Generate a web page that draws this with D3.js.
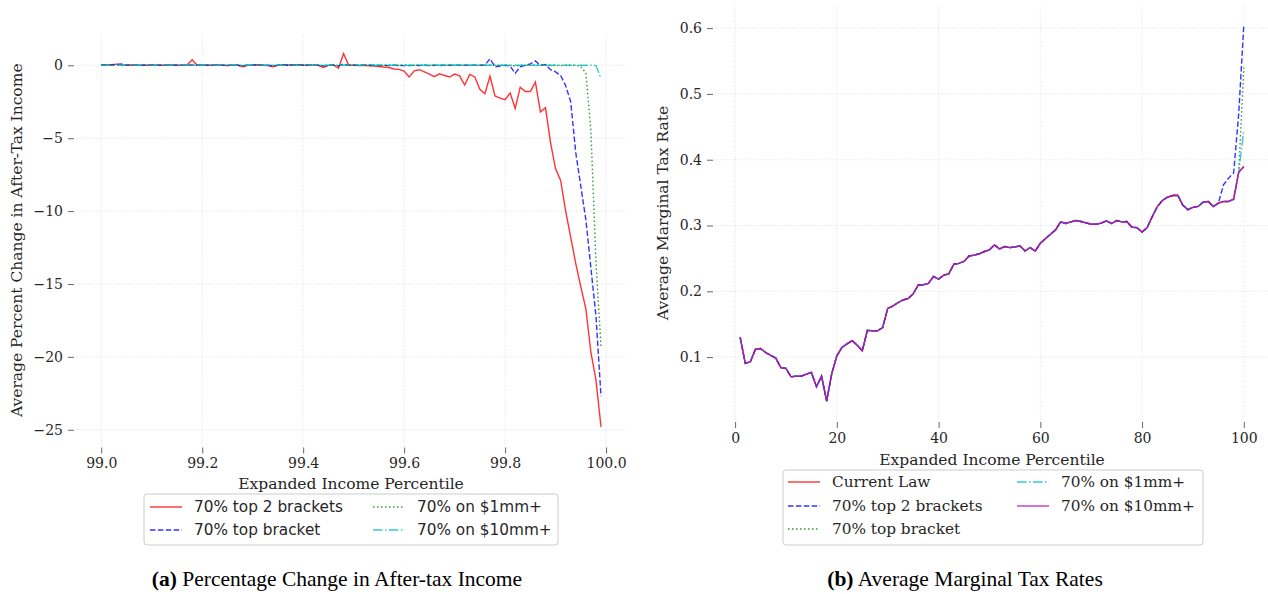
<!DOCTYPE html>
<html>
<head>
<meta charset="utf-8">
<script src="https://cdn.jsdelivr.net/npm/d3@7/dist/d3.min.js"></script>
<style>
  body { margin: 0; background: #fff; }
</style>
</head>
<body>
<svg id="chart"></svg>
<script>
// ---- panel (a): percentage change in after-tax income, top 1% ----
const pctTop = d3.range(100).map(i => +(99 + i * 0.01).toFixed(2))

const top2Brackets = [
  0.05, 0.02, 0.05, 0.08, 0.03, 0.0, 0.02, 0.0, 0.01, 0.0,
  0.02, 0.0, 0.01, 0.0, 0.02, 0.0, 0.01, 0.02, 0.38, 0.0,
  0.02, 0.0, 0.01, 0.03, 0.0, -0.02, 0.0, 0.02, -0.1, 0.0,
  0.02, 0.05, 0.0, -0.02, -0.1, 0.0, 0.05, 0.02, 0.03, 0.05,
  0.02, 0.0, 0.03, 0.0, -0.15, 0.0, 0.02, -0.2, 0.8, 0.02,
  0.0, -0.02, 0.0, -0.03, -0.05, -0.08, -0.12, -0.15, -0.25, -0.28,
  -0.4, -0.8, -0.38, -0.3, -0.45, -0.6, -0.78, -0.58, -0.7, -0.8,
  -0.6, -0.72, -1.35, -0.62, -0.8, -1.65, -1.95, -0.75, -2.1, -2.25,
  -2.35, -1.9, -2.95, -1.5, -1.8, -1.8, -1.15, -3.2, -2.9, -5.3,
  -7.1, -7.9, -10.0, -11.8, -13.6, -15.2, -16.7, -19.7, -21.6, -24.8
]

const topBracket = [
  0.03, 0.0, 0.02, 0.05, 0.1, 0.02, 0.0, 0.01, 0.0, 0.0,
  0.01, 0.0, 0.0, 0.01, 0.0, 0.0, 0.01, 0.0, 0.03, 0.0,
  0.0, 0.01, 0.0, 0.0, 0.01, 0.0, 0.0, 0.0, -0.03, 0.0,
  0.01, 0.02, 0.0, 0.0, -0.03, 0.0, 0.02, 0.0, 0.01, 0.02,
  0.0, 0.0, 0.01, 0.0, -0.04, 0.0, 0.0, -0.05, 0.1, 0.0,
  0.0, 0.0, 0.0, 0.0, 0.0, -0.01, 0.0, -0.02, 0.0, -0.01,
  -0.02, -0.02, 0.0, -0.01, 0.0, -0.02, 0.0, -0.01, 0.0, 0.0,
  0.02, 0.0, 0.0, 0.01, 0.0, 0.0, 0.02, 0.45, -0.1, -0.05,
  0.0, -0.05, -0.55, -0.1, 0.0, 0.1, 0.3, 0.0, 0.05, -0.3,
  -0.45, -0.7, -1.4, -2.5, -6.0, -8.3, -10.6, -13.9, -17.2, -22.7
]

const on1mm = [
  0.02, 0.0, 0.01, 0.02, 0.03, 0.0, 0.0, 0.01, 0.0, 0.0,
  0.0, 0.0, 0.0, 0.01, 0.0, 0.0, 0.0, 0.0, 0.01, 0.0,
  0.0, 0.0, 0.0, 0.0, 0.0, 0.0, 0.0, 0.0, -0.01, 0.0,
  0.0, 0.01, 0.0, 0.0, -0.01, 0.0, 0.01, 0.0, 0.0, 0.01,
  0.0, 0.0, 0.0, 0.0, -0.01, 0.0, 0.0, -0.02, 0.03, 0.0,
  0.0, 0.0, 0.0, 0.0, 0.0, 0.0, 0.0, 0.0, 0.0, 0.0,
  0.0, 0.0, 0.0, 0.0, 0.0, 0.0, 0.0, 0.0, 0.0, 0.0,
  0.0, 0.0, 0.0, 0.0, 0.0, 0.0, 0.0, 0.02, 0.0, 0.0,
  0.0, 0.0, -0.03, 0.0, 0.0, 0.0, 0.02, 0.0, 0.0, 0.0,
  0.0, -0.02, 0.0, 0.0, 0.0, -0.1, -0.5, -4.5, -13.5, -19.3
]

const on10mm = [
  0.02, 0.0, 0.01, 0.02, 0.02, 0.0, 0.0, 0.0, 0.0, 0.0,
  0.0, 0.0, 0.0, 0.0, 0.0, 0.0, 0.0, 0.0, 0.01, 0.0,
  0.0, 0.0, 0.0, 0.0, 0.0, 0.0, 0.0, 0.0, 0.0, 0.0,
  0.0, 0.0, 0.0, 0.0, 0.0, 0.0, 0.0, 0.0, 0.0, 0.0,
  0.0, 0.0, 0.0, 0.0, 0.0, 0.0, 0.0, 0.0, 0.02, 0.0,
  0.0, 0.0, 0.0, 0.0, 0.0, 0.0, 0.0, 0.0, 0.0, 0.0,
  0.0, 0.0, 0.0, 0.0, 0.0, 0.0, 0.0, 0.0, 0.0, 0.0,
  0.0, 0.0, 0.0, 0.0, 0.0, 0.0, 0.0, 0.0, 0.0, 0.0,
  0.0, 0.0, 0.0, 0.0, 0.0, 0.0, 0.0, 0.0, 0.0, 0.0,
  0.0, 0.0, 0.0, 0.0, 0.0, 0.0, 0.0, 0.0, -0.02, -0.9
]

const leftXTicks = [99.0, 99.2, 99.4, 99.6, 99.8, 100.0]
const leftYTicks = [0, -5, -10, -15, -20, -25]

// ---- panel (b): average marginal tax rate by percentile ----
const pctAll = d3.range(1, 101)

const currentLaw = [
  0.130, 0.0904, 0.093, 0.112, 0.113, 0.107, 0.1026, 0.0985, 0.084, 0.083,
  0.070, 0.071, 0.071, 0.074, 0.0767, 0.055, 0.071, 0.033, 0.075, 0.102,
  0.1147, 0.120, 0.125, 0.118, 0.1096, 0.1406, 0.140, 0.140, 0.145, 0.174,
  0.1776, 0.1826, 0.1868, 0.189, 0.196, 0.2096, 0.210, 0.212, 0.2225, 0.2185,
  0.2245, 0.2265, 0.2412, 0.2425, 0.2455, 0.2537, 0.2550, 0.2570, 0.2605, 0.2630,
  0.2705, 0.2644, 0.2680, 0.2664, 0.2674, 0.2690, 0.2613, 0.2664, 0.2613, 0.2730,
  0.2800, 0.2868, 0.2933, 0.3055, 0.3030, 0.3055, 0.3075, 0.3060, 0.3040, 0.3020,
  0.3020, 0.3035, 0.3070, 0.3030, 0.3075, 0.3055, 0.3060, 0.2974, 0.2968, 0.2900,
  0.2968, 0.3135, 0.3288, 0.3380, 0.3430, 0.3455, 0.3460, 0.3310, 0.3240, 0.3275,
  0.3290, 0.3355, 0.3365, 0.3288, 0.3340, 0.3365, 0.3365, 0.3400, 0.3810, 0.3897
]
// reforms only differ from current law at the very top
const top2Tail = [0.3617, 0.372, 0.380, 0.470, 0.605]   // pct 96-100
const topBracketTail = [0.540]                          // pct 100
const on1mmTail = [0.445]                               // pct 100
const on10mmTail = [0.3897]                             // pct 100

const rightXTicks = [0, 20, 40, 60, 80, 100]
const rightYTicks = [0.1, 0.2, 0.3, 0.4, 0.5, 0.6]

// ---- styles ----
const dash = { solid: null, dashed: "5.5,2.4", dotted: "1.5,2.5", dashdot: "9.6,2.4,1.5,2.4" }
const C = { r: "#ff0000", b: "#0000ff", g: "#008000", c: "#00bfbf", m: "#bf00bf" }

const W = 1268, H = 594
const serif = "'DejaVu Serif', serif"
const sans = "'DejaVu Sans', sans-serif"

const svg = d3.select("#chart").attr("width", W).attr("height", H)

function withTail(base, tail) {
  return base.slice(0, base.length - tail.length).concat(tail)
}

function drawPanel(cfg) {
  const { x, y } = cfg
  const [x0, x1] = x.range()
  const [y0, y1] = y.range()   // y0 bottom, y1 top
  const g = svg.append("g")

  // grid
  g.append("g").selectAll("line").data(cfg.xTicks).join("line")
    .attr("x1", d => x(d)).attr("x2", d => x(d))
    .attr("y1", y1).attr("y2", y0)
    .attr("stroke", "#dcdcdc").attr("stroke-width", 0.8).attr("stroke-dasharray", "1,1.5")
  g.append("g").selectAll("line").data(cfg.yTicks).join("line")
    .attr("x1", x0).attr("x2", x1)
    .attr("y1", d => y(d)).attr("y2", d => y(d))
    .attr("stroke", "#dcdcdc").attr("stroke-width", 0.8).attr("stroke-dasharray", "1,1.5")

  // axes
  const xAxis = g.append("g")
    .attr("transform", `translate(0, ${y0 + 2})`)
    .call(d3.axisBottom(x).tickValues(cfg.xTicks).tickFormat(cfg.xFmt).tickSizeInner(6).tickSizeOuter(0).tickPadding(5))
  const yAxis = g.append("g")
    .attr("transform", `translate(${x0 - 2}, 0)`)
    .call(d3.axisLeft(y).tickValues(cfg.yTicks).tickFormat(cfg.yFmt).tickSizeInner(6).tickSizeOuter(0).tickPadding(5))
  for (const a of [xAxis, yAxis]) {
    a.select(".domain").remove()
    a.selectAll(".tick line").attr("stroke", "#555").attr("stroke-width", 0.9)
    a.selectAll("text").attr("font-family", serif).attr("font-size", 14).attr("fill", "#262626")
  }

  // lines
  const line = d3.line().x(d => x(d[0])).y(d => y(d[1]))
  cfg.series.forEach(s => {
    g.append("path")
      .datum(cfg.xs.map((v, i) => [v, s.values[i]]))
      .attr("d", line)
      .attr("fill", "none")
      .attr("stroke", s.color)
      .attr("stroke-opacity", 0.8)
      .attr("stroke-width", 1.4)
      .attr("stroke-dasharray", dash[s.style])
  })

  // axis labels
  g.append("text")
    .attr("x", (x0 + x1) / 2).attr("y", cfg.xLabelY)
    .attr("text-anchor", "middle")
    .attr("font-family", serif).attr("font-size", 15.5).attr("fill", "#262626")
    .text("Expanded Income Percentile")
  g.append("text")
    .attr("transform", `translate(${cfg.yLabelX}, ${(y0 + y1) / 2}) rotate(-90)`)
    .attr("text-anchor", "middle")
    .attr("font-family", serif).attr("font-size", 15.5).attr("fill", "#262626")
    .text(cfg.yLabel)

  // legend
  const L = cfg.legend
  const lg = g.append("g").attr("transform", `translate(${L.x}, ${L.y})`)
  lg.append("rect")
    .attr("width", L.w).attr("height", L.h).attr("rx", 3)
    .attr("fill", "#fff").attr("stroke", "#cccccc").attr("stroke-width", 1)
  cfg.series.forEach((s, i) => {
    const col = Math.floor(i / L.rows), row = i % L.rows
    const lx = L.colX[col], ly = L.rowY[row]
    lg.append("line")
      .attr("x1", lx).attr("x2", lx + 32).attr("y1", ly).attr("y2", ly)
      .attr("stroke", s.color).attr("stroke-opacity", 0.8).attr("stroke-width", 1.4)
      .attr("stroke-dasharray", dash[s.style])
    lg.append("text")
      .attr("x", lx + 44).attr("y", ly).attr("dy", "0.35em")
      .attr("font-family", L.font).attr("font-size", 15.3).attr("fill", "#262626")
      .text(s.name)
  })

  // caption
  const cap = svg.append("text")
    .attr("x", cfg.capX).attr("y", 586)
    .attr("text-anchor", "middle")
    .attr("font-family", "'Liberation Serif', 'Times New Roman', serif")
    .attr("font-size", 21.5).attr("fill", "#000")
  cap.append("tspan").attr("font-weight", "bold").text(cfg.capTag)
  cap.append("tspan").text(" " + cfg.capText)
}

drawPanel({
  x: d3.scaleLinear().domain([98.95, 100.0395]).range([76, 626]),
  y: d3.scaleLinear().domain([-26.08, 2.08]).range([445.5, 35]),
  xs: pctTop,
  xTicks: leftXTicks, yTicks: leftYTicks,
  xFmt: d3.format(".1f"), yFmt: d => d3.format("d")(d).replace("-", "\u2212"),
  xLabelY: 489, yLabelX: 22,
  yLabel: "Average Percent Change in After-Tax Income",
  series: [
    { name: "70% top 2 brackets", values: top2Brackets, color: C.r, style: "solid" },
    { name: "70% top bracket", values: topBracket, color: C.b, style: "dashed" },
    { name: "70% on $1mm+", values: on1mm, color: C.g, style: "dotted" },
    { name: "70% on $10mm+", values: on10mm, color: C.c, style: "dashdot" }
  ],
  legend: { x: 144, y: 494, w: 414, h: 51, rows: 2, colX: [6, 229], rowY: [13, 36], font: sans },
  capX: 337, capTag: "(a)", capText: "Percentage Change in After-tax Income"
})

drawPanel({
  x: d3.scaleLinear().domain([-3.95, 104.95]).range([715, 1269]),
  y: d3.scaleLinear().domain([0.0044, 0.6336]).range([420, 6]),
  xs: pctAll,
  xTicks: rightXTicks, yTicks: rightYTicks,
  xFmt: d3.format("d"), yFmt: d3.format(".1f"),
  xLabelY: 465, yLabelX: 668,
  yLabel: "Average Marginal Tax Rate",
  series: [
    { name: "Current Law", values: currentLaw, color: C.r, style: "solid" },
    { name: "70% top 2 brackets", values: withTail(currentLaw, top2Tail), color: C.b, style: "dashed" },
    { name: "70% top bracket", values: withTail(currentLaw, topBracketTail), color: C.g, style: "dotted" },
    { name: "70% on $1mm+", values: withTail(currentLaw, on1mmTail), color: C.c, style: "dashdot" },
    { name: "70% on $10mm+", values: withTail(currentLaw, on10mmTail), color: C.m, style: "solid" }
  ],
  legend: { x: 783, y: 470, w: 420, h: 75, rows: 3, colX: [5, 234], rowY: [12, 36, 59], font: serif },
  capX: 965, capTag: "(b)", capText: "Average Marginal Tax Rates"
})
</script>
</body>
</html>
